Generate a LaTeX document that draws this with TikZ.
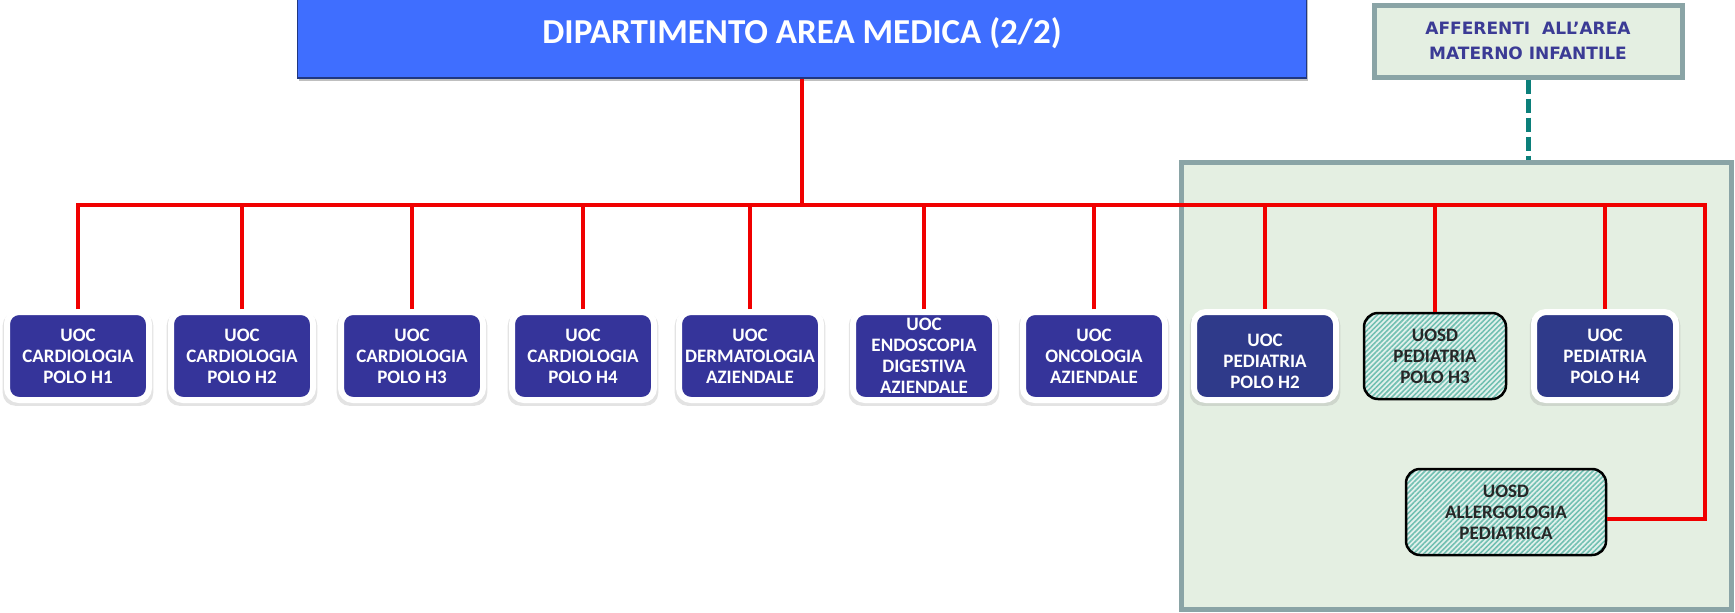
\documentclass[tikz,border=0pt]{standalone}
\usepackage{fontspec}
\setmainfont{Carlito}
\newfontfamily\widefont{DejaVu Sans}
\usetikzlibrary{shadows,patterns.meta}
\definecolor{deptblue}{HTML}{3F6EFF}
\definecolor{uocblue}{HTML}{35349A}
\definecolor{pedblue}{HTML}{2F3A8A}
\definecolor{linkred}{HTML}{F00000}
\definecolor{panelfill}{HTML}{E4EFE2}
\definecolor{panelline}{HTML}{8AA4A6}
\definecolor{hatchteal}{HTML}{72C0B2}
\definecolor{hatchbg}{HTML}{E2F1EC}
\definecolor{afftext}{HTML}{3B3B95}
\definecolor{dashteal}{HTML}{0B7F7A}
\begin{document}
\begin{tikzpicture}[x=1pt,y=-1pt,
    unit node/.style={rounded corners=12pt,fill=uocblue,draw=white,line width=6pt,minimum width=142pt,minimum height=88pt,inner sep=0pt,align=center,text=white,font=\fontsize{19}{21}\selectfont\bfseries,drop shadow={shadow xshift=0pt,shadow yshift=-3pt,shadow scale=1.06,opacity=0.22}},
    ped node/.style={unit node,fill=pedblue},
    uosd node/.style={rounded corners=14pt,draw=black,line width=2.5pt,preaction={fill=hatchbg},pattern={Lines[angle=45,distance=3.6pt,line width=1.6pt]},pattern color=hatchteal,minimum width=142pt,minimum height=86pt,inner sep=0pt,align=center,text=black!85,font=\fontsize{19}{21}\selectfont\bfseries},
    dept node/.style={fill=deptblue,draw=deptblue!50!black,line width=1.5pt,minimum width=1009pt,minimum height=90pt,text=white,font=\fontsize{35}{40}\selectfont\bfseries,drop shadow={shadow xshift=1pt,shadow yshift=-3pt,opacity=0.5}},
    area node/.style={fill=panelfill,draw=panelline,line width=5pt,inner sep=0pt,align=center,text=afftext,font=\widefont\fontsize{17}{25}\selectfont\bfseries},
    link/.style={draw=linkred,line width=4pt},
    affil/.style={draw=dashteal,line width=5pt,dash pattern=on 14pt off 5pt}]
    \useasboundingbox (0,0) rectangle (1735,613);

    \node[area node,minimum width=550pt,minimum height=447pt] (panel) at (1456,385.5) {};
    \node[dept node] (dip) at (802,33) {DIPARTIMENTO AREA MEDICA (2/2)};
    \node[area node,minimum width=308pt,minimum height=72pt] (aff) at (1528,41) {AFFERENTI\ \ ALL’AREA\\MATERNO INFANTILE};

    \node[unit node] (n1) at (78,356) {UOC\\CARDIOLOGIA\\POLO H1};
    \node[unit node] (n2) at (242,356) {UOC\\CARDIOLOGIA\\POLO H2};
    \node[unit node] (n3) at (412,356) {UOC\\CARDIOLOGIA\\POLO H3};
    \node[unit node] (n4) at (583,356) {UOC\\CARDIOLOGIA\\POLO H4};
    \node[unit node] (n5) at (750,356) {UOC\\DERMATOLOGIA\\AZIENDALE};
    \node[unit node] (n6) at (924,356) {UOC\\ENDOSCOPIA\\DIGESTIVA\\AZIENDALE};
    \node[unit node] (n7) at (1094,356) {UOC\\ONCOLOGIA\\AZIENDALE};
    \node[ped node] (n8) at (1265,356) {\mbox{}\\[3pt]UOC\\PEDIATRIA\\POLO H2};
    \node[uosd node] (n9) at (1435,356) {UOSD\\PEDIATRIA\\POLO H3};
    \node[ped node] (n10) at (1605,356) {UOC\\PEDIATRIA\\POLO H4};
    \node[uosd node,minimum width=200pt] (allerg) at (1506,512) {UOSD\\ALLERGOLOGIA\\PEDIATRICA};

    \coordinate (busR) at (1705,205);
    \draw[affil] (aff.south) -- (aff.south |- panel.north);
    \draw[link] (dip.south) -- (dip.south |- busR);
    \draw[link] (n1.north) |- (busR) |- ([yshift=-7pt]allerg.east);
    \foreach \i in {2,...,10}
        \draw[link] (n\i.north) -- (n\i.north |- busR);
\end{tikzpicture}
\end{document}
